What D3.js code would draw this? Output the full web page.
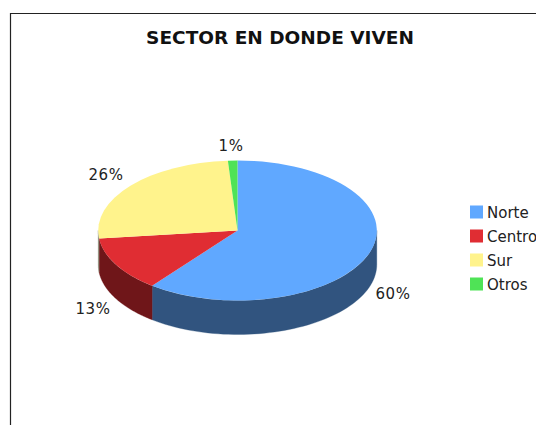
<!DOCTYPE html>
<html><head><meta charset="utf-8">
<script src="https://cdnjs.cloudflare.com/ajax/libs/d3/7.8.5/d3.min.js"></script>
<style>html,body{margin:0;padding:0;background:#fff;overflow:hidden}svg{display:block}</style>
</head><body><div id="c"></div>
<script>
const categories = ["Norte","Centro","Sur","Otros"];
const values = [60.5,12.7,25.7,1.1];
const labels = ["60%","13%","26%","1%"];
const topColors = ["#60a8ff","#e02d33","#fff38c","#4fe356"];
const sideColors = ["#31547f","#6f1619","#8a8a78","#27712b"];
(function(){
const W=536,H=425,cx=237.5,cy=230.5,rx=139.3,ry=70,depth=34;
const svg=d3.select("#c").append("svg").attr("width",W).attr("height",H);
const font="'DejaVu Sans',Verdana,sans-serif";

svg.append("path").attr("d",`M10.5,${H}V13.5H${W}`).attr("fill","none").attr("stroke","#222").attr("stroke-width",1.2);
svg.append("text").attr("x",280).attr("y",43.5).attr("text-anchor","middle")
  .attr("font-family",font).attr("font-weight","bold").attr("font-size",18.5).attr("fill","#111")
  .text("SECTOR EN DONDE VIVEN");

const pie=d3.pie().sort(null).value(d=>d)(values);
const rScale=d3.scaleLinear().domain([0,1]).range([0,rx]);

const wall=svg.append("g");
const pt=(a,dy)=>[cx+rScale(Math.sin(a)),cy-ry*Math.cos(a)+dy];
pie.forEach((s,i)=>{
  const a0=Math.max(s.startAngle,Math.PI/2),a1=Math.min(s.endAngle,Math.PI*1.5);
  if(a1<=a0) return;
  const n=60, angs=d3.range(n+1).map(k=>a0+(a1-a0)*k/n);
  const pts=angs.map(a=>pt(a,0)).concat(angs.slice().reverse().map(a=>pt(a,depth)));
  wall.append("path").attr("d",d3.line()(pts)+"Z").attr("fill",sideColors[i]).attr("stroke",sideColors[i]).attr("stroke-width",.3);
});
const arc=d3.arc().innerRadius(0).outerRadius(rScale(1));
const face=svg.append("g").attr("transform",`translate(${cx},${cy}) scale(1,${ry/rx})`);
face.selectAll("path").data(pie).join("path").attr("d",arc).attr("fill",(d,i)=>topColors[i]);

const labelPos=[[393,299],[93,314],[106,180],[231,151]];
svg.selectAll("text.l").data(labels).join("text").attr("class","l")
  .attr("x",(d,i)=>labelPos[i][0]).attr("y",(d,i)=>labelPos[i][1]).attr("text-anchor","middle")
  .attr("font-family",font).attr("font-size",15).attr("letter-spacing",0.5).attr("fill","#222").text(d=>d);

const ly=d3.scalePoint().domain(categories).range([212,284]);
const leg=svg.selectAll("g.leg").data(categories).join("g").attr("class","leg")
  .attr("transform",d=>`translate(470,${ly(d)})`);
leg.append("rect").attr("y",-6.5).attr("width",13).attr("height",13).attr("fill",(d,i)=>topColors[i]);
leg.append("text").attr("x",17).attr("y",5.5).attr("font-family",font).attr("font-size",15).attr("fill","#222").text(d=>d);
})();
</script></body></html>
